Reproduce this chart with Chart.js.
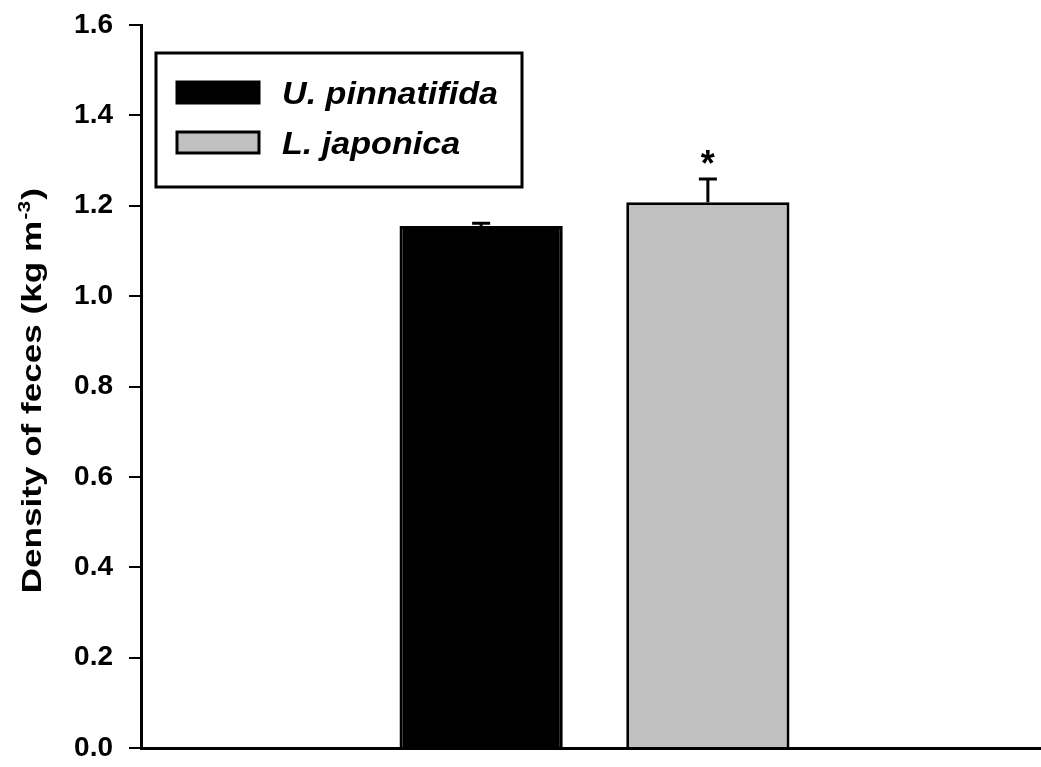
<!DOCTYPE html>
<html>
<head>
<meta charset="utf-8">
<script src="https://cdn.jsdelivr.net/npm/chart.js@4/dist/chart.umd.min.js"></script>
<style>
  html, body { margin: 0; padding: 0; background: #fff; }
  #wrap { width: 1041px; height: 767px; }
</style>
</head>
<body>
<div id="wrap"><canvas id="feces" width="1041" height="767"></canvas></div>
<script>
// data
var species = ["U. pinnatifida", "L. japonica"];
var density = [1.155, 1.208];
var density_se = [0.006, 0.051];
var signif = ["", "*"];
var yTicks = [0.0, 0.2, 0.4, 0.6, 0.8, 1.0, 1.2, 1.4, 1.6];
var fills = ["#000000", "#c0c0c0"];

var FONT = "'Liberation Sans', Arial, sans-serif";

// the x axis in the original runs a little past the right edge of the image
var bleedPlugin = {
    id: "bleed",
    afterLayout: function(chart) {
        var xs = chart.scales.x;
        xs.right += 7;
        xs.width += 7;
        chart.chartArea.right += 7;
        chart.chartArea.width += 7;
        xs.configure();
    }
};

// error bars (upper only) + significance mark
var errPlugin = {
    id: "errbars",
    afterDatasetsDraw: function(chart) {
        var ctx = chart.ctx;
        var ys = chart.scales.y;
        ctx.save();
        chart.data.datasets.forEach(function(ds, i) {
            var bar = chart.getDatasetMeta(i).data[0];
            var yTop = ys.getPixelForValue(density[i] + density_se[i]);
            var yBar = ys.getPixelForValue(density[i]);
            ctx.strokeStyle = "#000";
            ctx.lineWidth = 3;
            ctx.beginPath();
            ctx.moveTo(bar.x, yBar);
            ctx.lineTo(bar.x, yTop);
            ctx.moveTo(bar.x - 9, yTop);
            ctx.lineTo(bar.x + 9, yTop);
            ctx.stroke();
            if (signif[i]) {
                ctx.fillStyle = "#000";
                ctx.font = "bold 36px " + FONT;
                ctx.textAlign = "center";
                ctx.textBaseline = "alphabetic";
                ctx.fillText(signif[i], bar.x, yTop - 3);
            }
        });
        ctx.restore();
    }
};

// boxed legend in the upper left
var legendPlugin = {
    id: "boxlegend",
    afterDraw: function(chart) {
        var ctx = chart.ctx;
        ctx.save();
        ctx.strokeStyle = "#000";
        ctx.lineWidth = 3;
        ctx.strokeRect(156, 53, 366, 134);
        chart.data.datasets.forEach(function(ds, i) {
            var top = 82 + i * 50;
            ctx.fillStyle = ds.backgroundColor;
            ctx.fillRect(177, top, 82, 21);
            ctx.lineWidth = 3;
            ctx.strokeRect(177, top, 82, 21);
            ctx.save();
            ctx.translate(282, top + 22);
            ctx.scale(1.1, 1);
            ctx.fillStyle = "#000";
            ctx.font = "italic bold 31px " + FONT;
            ctx.textBaseline = "alphabetic";
            ctx.fillText(ds.label, 0, 0);
            ctx.restore();
        });
        ctx.restore();
    }
};

// rotated y-axis title with superscript
var titlePlugin = {
    id: "ytitle",
    afterDraw: function(chart) {
        var ctx = chart.ctx;
        var main = "Density of feces (kg m", sup = "-3", end = ")";
        ctx.save();
        ctx.translate(41, 392);
        ctx.rotate(-Math.PI / 2);
        ctx.scale(1.3, 1);
        ctx.fillStyle = "#000";
        ctx.textBaseline = "alphabetic";
        ctx.font = "bold 27px " + FONT;
        var w1 = ctx.measureText(main).width, w3 = ctx.measureText(end).width;
        ctx.font = "bold 16px " + FONT;
        var w2 = ctx.measureText(sup).width;
        var x = -(w1 + w2 + w3) / 2;
        ctx.font = "bold 27px " + FONT;
        ctx.fillText(main, x, 0);
        ctx.font = "bold 16px " + FONT;
        ctx.fillText(sup, x + w1 + 1, -11);
        ctx.font = "bold 27px " + FONT;
        ctx.fillText(end, x + w1 + w2 + 2, 0);
        ctx.restore();
    }
};

var ctx1 = document.getElementById("feces").getContext("2d");
var myChart = new Chart(ctx1, {
    type: "bar",
    data: {
        labels: [""],
        datasets: [{
                label: species[0],
                data: [density[0]],
                backgroundColor: fills[0],
                borderColor: "#000",
                borderWidth: 3
            },
            {
                label: species[1],
                data: [density[1]],
                backgroundColor: fills[1],
                borderColor: "#000",
                borderWidth: 3
            }
        ]
    },
    options: {
        responsive: false,
        animation: false,
        devicePixelRatio: 1,
        categoryPercentage: 0.5,
        barPercentage: 0.72,
        layout: { padding: { left: 0, right: 0, top: 25, bottom: 19 } },
        plugins: {
            legend: { display: false },
            tooltip: { enabled: false }
        },
        scales: {
            x: {
                grid: { display: false },
                ticks: { display: false },
                border: { display: true, color: "#000", width: 3 },
                afterFit: function(s) {
                    s.height = 0;
                    s.paddingLeft = 0; s.paddingRight = 0;
                    s.paddingTop = 0; s.paddingBottom = 0;
                }
            },
            y: {
                min: 0,
                max: 1.6,
                afterBuildTicks: function(s) {
                    s.ticks = yTicks.map(function(v) { return { value: v }; });
                },
                ticks: {
                    color: "#000",
                    padding: 16,
                    font: { family: FONT, size: 28, weight: "bold" },
                    callback: function(v) { return Number(v).toFixed(1); }
                },
                grid: {
                    drawOnChartArea: false,
                    tickLength: 12,
                    color: "#000",
                    lineWidth: 2
                },
                border: { color: "#000", width: 3 },
                afterFit: function(s) {
                    s.width = 141;
                    s.paddingTop = 0; s.paddingBottom = 0;
                    s.paddingLeft = 0; s.paddingRight = 0;
                }
            }
        }
    },
    plugins: [bleedPlugin, errPlugin, legendPlugin, titlePlugin]
});
</script>
</body>
</html>
